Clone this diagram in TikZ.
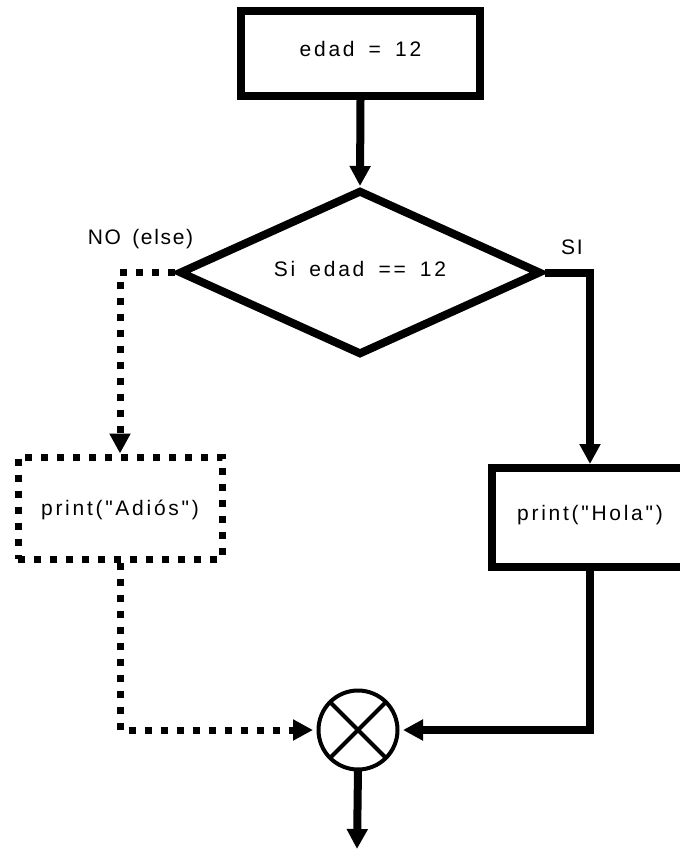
\documentclass[tikz,border=0pt]{standalone}
\usepackage{fontspec}
\setmainfont{Liberation Sans}[LetterSpace=13, WordSpace=1.65, Ligatures=TeXOff]
\newfontfamily\lblfont{Liberation Sans}[LetterSpace=8, WordSpace=1.5, Ligatures=TeXOff]
\usetikzlibrary{arrows.meta,shapes.geometric}
\begin{document}
\begin{tikzpicture}[x=1pt,y=-1pt,
  every node/.style={font=\fontsize{21}{25}\selectfont},
  thickbox/.style={draw, line width=8pt, rectangle, inner sep=0pt},
  dotbox/.style={draw, line width=7pt, dash pattern=on 7pt off 9pt, rectangle, inner sep=0pt},
  solidlink/.style={line width=8pt, -{Triangle[length=20pt,width=20pt]}},
  dotlink/.style={line width=7pt, dash pattern=on 7pt off 9pt, -{Triangle[length=20pt,width=20pt]}},
  lbl/.style={font=\lblfont\fontsize{21}{25}\selectfont, inner sep=0pt}
]
\clip (0,0) rectangle (680,849);
\node[thickbox, minimum width=239pt, minimum height=85pt, text height=15pt, text depth=10pt] (start) at (360.5,53.5) {edad = 12};
\node[draw, diamond, line width=8pt, minimum width=362pt, minimum height=165pt, inner sep=0pt, aspect=2.2, text height=15pt, text depth=8pt] (d) at (360,272.5) {Si edad == 12};
\node[thickbox, minimum width=196pt, minimum height=99pt, text height=15pt, text depth=10pt] (hola) at (590,517.5) {print("Hola")};
\node[dotbox, minimum width=204pt, minimum height=102pt, text height=16pt, text depth=2pt] (adios) at (120,508) {print("Adiós")};
\node[circle, draw, line width=4pt, minimum size=79pt, inner sep=0pt, outer sep=0pt,
  path picture={\draw[line width=4pt] (path picture bounding box.north west) -- (path picture bounding box.south east) (path picture bounding box.north east) -- (path picture bounding box.south west);}] (c) at (358,730) {};
\node[lbl] (no) at (140.5,239) {NO (else)};
\node[lbl] (si) at (572,247.5) {SI};
\coordinate (out) at (357,849);
\draw[solidlink] (start.south) -- (d.north);
\draw[solidlink] (d.east) -| (hola.north);
\draw[dotlink] (d.west) -| (adios.north);
\draw[solidlink, shorten >=5.5pt] (hola.south) |- (c.east);
\draw[dotlink, shorten >=5.5pt] (adios.south) |- (c.west);
\draw[solidlink] (c.south) -- (out);
\end{tikzpicture}
\end{document}
